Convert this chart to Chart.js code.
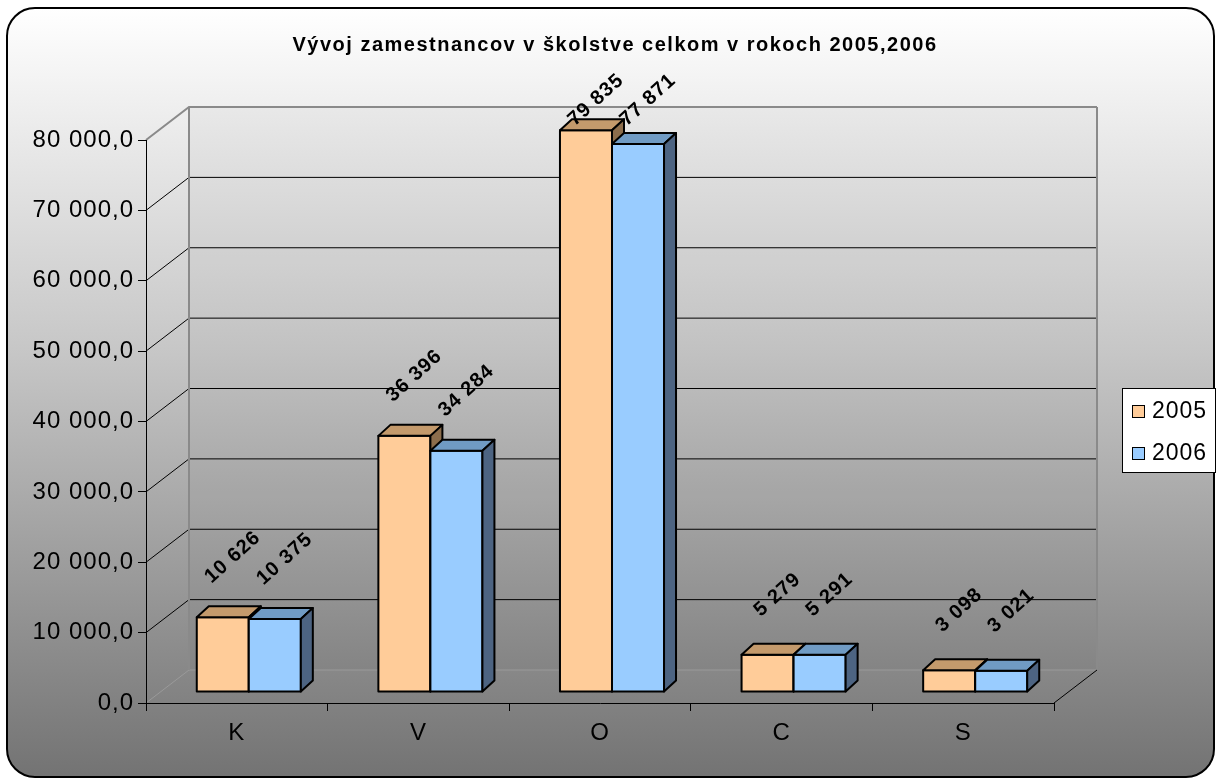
<!DOCTYPE html>
<html>
<head>
<meta charset="utf-8">
<title>Vývoj zamestnancov v školstve</title>
<script src="https://cdn.jsdelivr.net/npm/chart.js@4.4.1/dist/chart.umd.min.js"></script>
<style>
  html, body { margin: 0; padding: 0; background: #ffffff; }
  #wrap { width: 1219px; height: 781px; position: relative; }
</style>
</head>
<body>
<div id="wrap"><canvas id="chart"></canvas></div>
<script>
// ============================================
// DATA
// ============================================

const TITLE = 'Vývoj zamestnancov v školstve celkom v rokoch 2005,2006';
const CATEGORIES = ['K', 'V', 'O', 'C', 'S'];
const SERIES_NAMES = ['2005', '2006'];
const VALUES_2005 = [10626, 36396, 79835, 5279, 3098];
const VALUES_2006 = [10375, 34284, 77871, 5291, 3021];
const Y_TICKS = [0, 10000, 20000, 30000, 40000, 50000, 60000, 70000, 80000];

// bar colours: front, top, side
const COLORS = [
  { front: '#ffcc99', top: '#c49a6c', side: '#8c6d4c' },
  { front: '#99ccff', top: '#709bc4', side: '#4d6482' },
];

const FONT = '"Liberation Sans", Arial, sans-serif';

// 3D geometry
const WALL_DX = 43;
const WALL_DY = -33;
const BAR_DX = 12;
const BAR_DY = -11;

// Format number with space as thousands separator
function fmt(v) {
  return String(v).replace(/\B(?=(\d{3})+(?!\d))/g, ' ');
}

// ============================================
// BACKGROUND, WALLS AND GRIDLINES
// ============================================

function roundRect(ctx, x, y, w, h, r) {
  ctx.beginPath();
  ctx.moveTo(x + r, y);
  ctx.lineTo(x + w - r, y);
  ctx.arcTo(x + w, y, x + w, y + r, r);
  ctx.lineTo(x + w, y + h - r);
  ctx.arcTo(x + w, y + h, x + w - r, y + h, r);
  ctx.lineTo(x + r, y + h);
  ctx.arcTo(x, y + h, x, y + h - r, r);
  ctx.lineTo(x, y + r);
  ctx.arcTo(x, y, x + r, y, r);
  ctx.closePath();
}

const backdrop = {
  id: 'backdrop',
  beforeDraw(chart) {
    const ctx = chart.ctx;
    const area = chart.chartArea;
    const yScale = chart.scales.y;

    // wider text like the original export (kept for the axis labels too)
    ctx.letterSpacing = '1px';

    ctx.save();
    ctx.fillStyle = '#ffffff';
    ctx.fillRect(0, 0, chart.width, chart.height);

    // frame with gradient
    const grad = ctx.createLinearGradient(0, 8, 0, 777);
    grad.addColorStop(0, '#ffffff');
    grad.addColorStop(0.45, '#c6c6c6');
    grad.addColorStop(1, '#737373');
    roundRect(ctx, 7, 8, 1207, 769, 28);
    ctx.fillStyle = grad;
    ctx.fill();

    const L = area.left, R = area.right, T = area.top, B = area.bottom;

    // back wall shade
    ctx.fillStyle = 'rgba(0,0,0,0.025)';
    ctx.fillRect(L + WALL_DX, T + WALL_DY, R - L, B - T);

    // gridlines on back wall and side wall
    Y_TICKS.forEach((v) => {
      const y = yScale.getPixelForValue(v);
      let color = '#000000';
      let width = 1;
      if (v === Y_TICKS[Y_TICKS.length - 1]) {
        color = '#8a8a8a';
        width = 2;
      } else if (v === 0) {
        color = '#9a9a9a';
      }
      ctx.strokeStyle = color;
      ctx.lineWidth = width;
      ctx.beginPath();
      ctx.moveTo(L, y);
      ctx.lineTo(L + WALL_DX, y + WALL_DY);
      ctx.lineTo(R + WALL_DX, y + WALL_DY);
      ctx.stroke();
    });

    // back wall vertical edges
    ctx.strokeStyle = '#8a8a8a';
    ctx.lineWidth = 2;
    ctx.beginPath();
    ctx.moveTo(L + WALL_DX, T + WALL_DY);
    ctx.lineTo(L + WALL_DX, B + WALL_DY);
    ctx.moveTo(R + WALL_DX, T + WALL_DY);
    ctx.lineTo(R + WALL_DX, B + WALL_DY);
    ctx.stroke();

    // floor right edge
    ctx.strokeStyle = '#000000';
    ctx.lineWidth = 1;
    ctx.beginPath();
    ctx.moveTo(R, B);
    ctx.lineTo(R + WALL_DX, B + WALL_DY);
    ctx.stroke();

    ctx.restore();
  },
  afterDraw(chart) {
    const ctx = chart.ctx;
    ctx.save();
    ctx.strokeStyle = '#000000';
    ctx.lineWidth = 2;
    roundRect(ctx, 7, 8, 1207, 769, 28);
    ctx.stroke();

    // title
    ctx.fillStyle = '#000000';
    ctx.font = 'bold 20px ' + FONT;
    ctx.letterSpacing = '1.5px';
    ctx.textAlign = 'center';
    ctx.textBaseline = 'middle';
    ctx.fillText(TITLE, 615, 45);

    // legend
    ctx.letterSpacing = '1px';
    ctx.fillStyle = '#ffffff';
    ctx.fillRect(1122, 388, 93, 84);
    ctx.strokeStyle = '#000000';
    ctx.lineWidth = 1;
    ctx.strokeRect(1122.5, 388.5, 93, 84);
    ctx.font = '23px ' + FONT;
    ctx.textAlign = 'left';
    ctx.textBaseline = 'alphabetic';
    chart.data.datasets.forEach((ds, i) => {
      const y = 405 + i * 42;
      ctx.fillStyle = COLORS[i].front;
      ctx.fillRect(1132, y, 12, 12);
      ctx.strokeStyle = '#000000';
      ctx.strokeRect(1132.5, y + 0.5, 12, 12);
      ctx.fillStyle = '#000000';
      ctx.fillText(ds.label, 1152, y + 13);
    });
    ctx.restore();
  },
};

// ============================================
// 3D BARS AND VALUE LABELS
// ============================================

function drawBox(ctx, left, right, top, bottom, c) {
  ctx.lineWidth = 2;
  ctx.strokeStyle = '#000000';
  ctx.lineJoin = 'round';

  ctx.fillStyle = c.front;
  ctx.beginPath();
  ctx.rect(left, top, right - left, bottom - top);
  ctx.fill();
  ctx.stroke();

  ctx.fillStyle = c.top;
  ctx.beginPath();
  ctx.moveTo(left, top);
  ctx.lineTo(left + BAR_DX, top + BAR_DY);
  ctx.lineTo(right + BAR_DX, top + BAR_DY);
  ctx.lineTo(right, top);
  ctx.closePath();
  ctx.fill();
  ctx.stroke();

  ctx.fillStyle = c.side;
  ctx.beginPath();
  ctx.moveTo(right, top);
  ctx.lineTo(right + BAR_DX, top + BAR_DY);
  ctx.lineTo(right + BAR_DX, bottom + BAR_DY);
  ctx.lineTo(right, bottom);
  ctx.closePath();
  ctx.fill();
  ctx.stroke();
}

const bars3d = {
  id: 'bars3d',
  beforeDatasetsDraw(chart) {
    const ctx = chart.ctx;
    const metas = chart.data.datasets.map((_, d) => chart.getDatasetMeta(d));
    ctx.save();

    CATEGORIES.forEach((_, i) => {
      metas.forEach((meta, d) => {
        const el = meta.data[i];
        const p = el.getProps(['x', 'y', 'base', 'width'], true);
        const left = p.x - p.width / 2 + BAR_DX;
        const right = p.x + p.width / 2 + BAR_DX;
        const top = p.y + BAR_DY;
        const bottom = p.base + BAR_DY;
        drawBox(ctx, left, right, top, bottom, COLORS[d]);
      });
    });

    // value labels
    ctx.fillStyle = '#000000';
    ctx.font = 'bold 20px ' + FONT;
    ctx.letterSpacing = '1px';
    ctx.textAlign = 'center';
    ctx.textBaseline = 'middle';
    metas.forEach((meta, d) => {
      const values = chart.data.datasets[d].data;
      meta.data.forEach((el, i) => {
        const p = el.getProps(['x', 'y'], true);
        const cx = p.x + BAR_DX + 10;
        const cy = Math.max(p.y + BAR_DY - 60, 100);
        ctx.save();
        ctx.translate(cx, cy);
        ctx.rotate(-42 * Math.PI / 180);
        ctx.fillText(fmt(values[i]), 0, 0);
        ctx.restore();
      });
    });

    ctx.restore();
    return false;
  },
};

// ============================================
// CHART
// ============================================

new Chart(document.getElementById('chart'), {
  type: 'bar',
  data: {
    labels: CATEGORIES,
    datasets: [
      { label: SERIES_NAMES[0], data: VALUES_2005, backgroundColor: COLORS[0].front },
      { label: SERIES_NAMES[1], data: VALUES_2006, backgroundColor: COLORS[1].front },
    ],
  },
  options: {
    responsive: true,
    maintainAspectRatio: false,
    animation: false,
    devicePixelRatio: 1,
    categoryPercentage: 0.573,
    barPercentage: 1,
    layout: {
      padding: { top: 140, right: 165, left: 0, bottom: 0 },
    },
    plugins: {
      legend: { display: false },
      title: { display: false },
      tooltip: { enabled: false },
    },
    scales: {
      x: {
        afterFit: (scale) => { scale.height = 78; },
        grid: {
          offset: true,
          drawOnChartArea: false,
          color: '#000000',
          tickLength: 8,
        },
        border: { color: '#000000', width: 1 },
        ticks: {
          color: '#000000',
          font: { family: FONT, size: 24 },
          padding: 8,
          maxRotation: 0,
        },
      },
      y: {
        min: 0,
        max: 80000,
        afterFit: (scale) => { scale.width = 146; },
        grid: {
          drawOnChartArea: false,
          color: '#000000',
          tickLength: 8,
        },
        border: { color: '#000000', width: 1 },
        ticks: {
          stepSize: 10000,
          color: '#000000',
          font: { family: FONT, size: 24 },
          padding: 4,
          callback: (v) => fmt(v) + ',0',
        },
      },
    },
  },
  plugins: [backdrop, bars3d],
});
</script>
</body>
</html>
